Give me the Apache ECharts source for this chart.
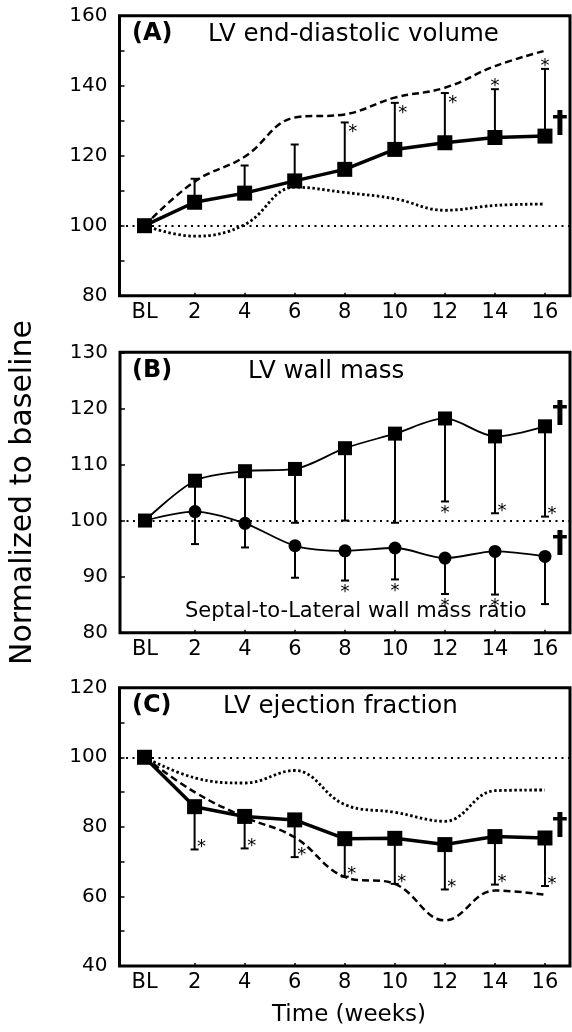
<!DOCTYPE html>
<html>
<head>
<meta charset="utf-8">
<script src="https://cdn.jsdelivr.net/npm/echarts/dist/echarts.min.js"></script>
<style>
html,body{margin:0;padding:0;background:#fff;}
#chart{width:572px;height:1032px;}
</style>
</head>
<body>
<div id="chart"></div>
<script>
// ---------- data ----------
const xCats = ['BL', '2', '4', '6', '8', '10', '12', '14', '16'];

// (A) LV end-diastolic volume
const edvMean   = [100, 106.7, 109.3, 112.8, 116.1, 121.8, 123.7, 125.2, 125.6];
const edvUpper  = [null, 113.4, 117.2, 123.2, 129.5, 135.1, 137.9, 139.0, 144.8];
const edvSig    = [0, 0, 0, 0, 1, 1, 1, 1, 1];
const edvDashed = [100, 112.6, 119.7, 130.9, 131.8, 136.6, 139.4, 145.6, 150.0];
const edvDotted = [100, 97.0, 100.3, 111.0, 109.5, 107.7, 104.4, 105.8, 106.2];

// (B) LV wall mass and septal-to-lateral wall mass ratio
const massMean   = [100, 107.1, 108.8, 109.2, 112.9, 115.5, 118.2, 115.0, 116.8];
const massLower  = [null, 101.5, 100.0, 99.6, 100.0, 99.6, 103.4, 101.3, 100.7];
const massSig    = [0, 0, 0, 0, 0, 0, 1, 1, 1];
const ratioMean  = [100, 101.6, 99.5, 95.5, 94.6, 95.1, 93.3, 94.5, 93.6];
const ratioLower = [null, 95.8, 95.2, 89.8, 89.3, 89.5, 86.9, 86.8, 85.1];
const ratioSig   = [0, 0, 0, 0, 1, 1, 1, 1, 0];

// (C) LV ejection fraction
const efMean   = [100, 85.8, 83.0, 82.0, 76.6, 76.7, 74.9, 77.2, 76.8];
const efLower  = [null, 73.5, 73.8, 71.3, 65.7, 63.6, 62.0, 63.4, 63.0];
const efSig    = [0, 1, 1, 1, 1, 1, 1, 1, 1];
const efDotted = [100, 94.1, 92.6, 96.2, 86.4, 84.2, 81.6, 90.4, 90.6];
const efDashed = [100, 90.0, 82.8, 77.0, 65.6, 63.6, 53.1, 61.7, 60.5];

// ---------- styling ----------
const FONT = 'DejaVu Sans';
const BLACK = '#000';
const STAR_OFF = { rightDown: [8, 6], above: [0, -7], below: [0, 8], rightUp: [7, -6] };

const grids = [
  { left: 119.5, top: 15.7, width: 450.5, height: 280 },
  { left: 119.5, top: 352.3, width: 450.5, height: 280.4 },
  { left: 119.5, top: 687.7, width: 450.5, height: 278.3 }
].map(g => Object.assign(g, { show: true, borderColor: BLACK, borderWidth: 3, backgroundColor: 'transparent' }));

function xAxis(gi) {
  return {
    type: 'category', gridIndex: gi, data: xCats, boundaryGap: true,
    axisLine: { show: false },
    axisTick: { show: true, inside: true, alignWithLabel: true, length: 3,
      interval: (idx) => idx !== 0, lineStyle: { color: BLACK, width: 1.5 } },
    axisLabel: { fontFamily: FONT, fontSize: 21, color: BLACK, margin: 6, interval: 0 },
    splitLine: { show: false }
  };
}
function yAxis(gi, min, max, step) {
  return {
    type: 'value', gridIndex: gi, min: min, max: max, interval: 10,
    axisLine: { show: false },
    axisTick: { show: true, inside: true, length: 5, lineStyle: { color: BLACK, width: 1.5 } },
    axisLabel: { fontFamily: FONT, fontSize: 20, color: BLACK, margin: 12,
      formatter: v => (v % step === 0 ? String(v) : '') },
    splitLine: { show: false }
  };
}

function errorBars(gi, means, bounds, sigs, modeFn) {
  const data = [];
  bounds.forEach((b, i) => { if (b != null) data.push([i, means[i], b, sigs[i]]); });
  return {
    type: 'custom', xAxisIndex: gi, yAxisIndex: gi, z: 3, silent: true,
    encode: { x: 0, y: 1 },
    data: data,
    renderItem: function (params, api) {
      const i = api.value(0), m = api.value(1), b = api.value(2), s = api.value(3);
      const p0 = api.coord([i, m]);
      const p1 = api.coord([i, b]);
      const ch = [
        { type: 'line', shape: { x1: p0[0], y1: p0[1], x2: p1[0], y2: p1[1] }, style: { stroke: BLACK, lineWidth: 2 } },
        { type: 'line', shape: { x1: p1[0] - 4, y1: p1[1], x2: p1[0] + 4, y2: p1[1] }, style: { stroke: BLACK, lineWidth: 2 } }
      ];
      if (s) {
        const off = STAR_OFF[modeFn(i)];
        ch.push({ type: 'text', style: { text: '*', x: p1[0] + off[0], y: p1[1] + off[1] + 4,
          fill: BLACK, font: '18px "DejaVu Sans"', align: 'center', verticalAlign: 'middle' } });
      }
      return { type: 'group', children: ch };
    }
  };
}

function dagger(gi, means) {
  const last = means.length - 1;
  return {
    type: 'custom', xAxisIndex: gi, yAxisIndex: gi, z: 6, silent: true,
    encode: { x: 0, y: 1 },
    data: [[last, means[last]]],
    renderItem: function (params, api) {
      const p = api.coord([api.value(0), api.value(1)]);
      return { type: 'text', style: { text: '\u2020', x: p[0] + 15, y: p[1] - 12,
        fill: BLACK, font: 'bold 31px "DejaVu Sans"', align: 'center', verticalAlign: 'middle' } };
    }
  };
}

function baseline100() {
  return { silent: true, symbol: 'none', label: { show: false },
    lineStyle: { type: [2, 4.5], width: 2, color: BLACK }, data: [{ yAxis: 100 }] };
}

function curve(gi, data, dash, width) {
  return { type: 'line', xAxisIndex: gi, yAxisIndex: gi, data: data, smooth: 0.4, symbol: 'none',
    z: 2, silent: true, lineStyle: { color: BLACK, width: width, type: dash } };
}
function mainLine(gi, data, symbol, size, width, smooth, withBase) {
  const s = { type: 'line', xAxisIndex: gi, yAxisIndex: gi, data: data, symbol: symbol, symbolSize: size,
    smooth: smooth, z: 5, silent: true, itemStyle: { color: BLACK, opacity: 1 },
    lineStyle: { color: BLACK, width: width } };
  if (withBase) s.markLine = baseline100();
  return s;
}

function titleText(text, left, top, size, bold) {
  return { text: text, left: left, top: top, padding: 0,
    textStyle: { fontFamily: FONT, fontSize: size, fontWeight: bold ? 'bold' : 'normal', color: BLACK } };
}

const option = {
  animation: false,
  backgroundColor: '#fff',
  title: [
    titleText('(A)', 132, 22, 24, true),
    titleText('LV end-diastolic volume', 208, 22, 24.5, false),
    titleText('(B)', 132, 359, 24, true),
    titleText('LV wall mass', 248, 359, 24.5, false),
    titleText('Septal-to-Lateral wall mass ratio', 185, 601, 21, false),
    titleText('(C)', 132, 694, 24, true),
    titleText('LV ejection fraction', 223, 694, 24.5, false),
    titleText('Time (weeks)', 272, 1004, 23, false)
  ],
  grid: grids,
  xAxis: [xAxis(0), xAxis(1), xAxis(2)],
  yAxis: [
    yAxis(0, 80, 160, 20),
    Object.assign(yAxis(1, 80, 130, 10), {
      name: 'Normalized to baseline', nameLocation: 'middle', nameGap: 82, nameRotate: 90,
      nameTextStyle: { fontFamily: FONT, fontSize: 30, color: BLACK }
    }),
    yAxis(2, 40, 120, 20)
  ],
  series: [
    // A
    curve(0, edvDashed, [7, 4], 2.5),
    curve(0, edvDotted, [2.5, 2.5], 2.8),
    errorBars(0, edvMean, edvUpper, edvSig, i => (i >= 7 ? 'above' : 'rightDown')),
    mainLine(0, edvMean, 'rect', 15, 3.5, false, true),
    dagger(0, edvMean),
    // B
    errorBars(1, massMean, massLower, massSig, i => (i === 6 ? 'below' : 'rightUp')),
    errorBars(1, ratioMean, ratioLower, ratioSig, i => 'below'),
    mainLine(1, massMean, 'rect', 14, 1.8, 0.3, true),
    mainLine(1, ratioMean, 'circle', 13, 1.8, 0.3, false),
    dagger(1, massMean),
    dagger(1, ratioMean),
    // C
    curve(2, efDotted, [2.5, 2.5], 2.8),
    curve(2, efDashed, [7, 4], 2.5),
    errorBars(2, efMean, efLower, efSig, i => 'rightUp'),
    mainLine(2, efMean, 'rect', 15, 3.5, false, true),
    dagger(2, efMean)
  ]
};

const chart = echarts.init(document.getElementById('chart'), null, { renderer: 'canvas' });
chart.setOption(option);
</script>
</body>
</html>
